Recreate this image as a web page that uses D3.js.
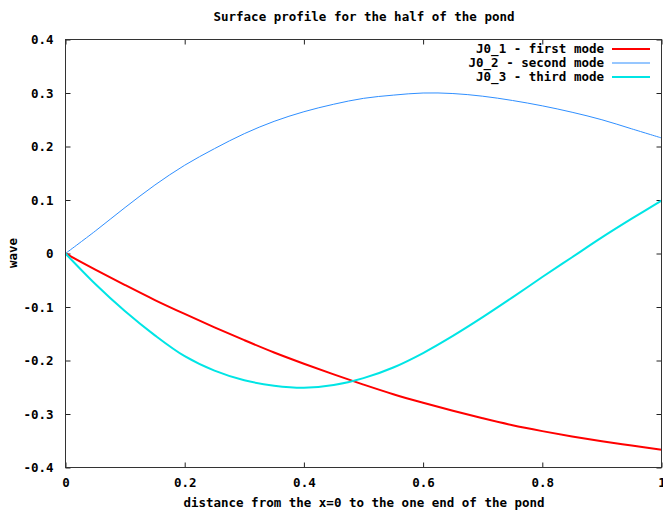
<!DOCTYPE html>
<html>
<head>
<meta charset="utf-8">
<script src="https://cdn.jsdelivr.net/npm/d3@7"></script>
<style>
  html, body { margin: 0; padding: 0; background: #fff; }
  svg { display: block; }
  text { font-family: "DejaVu Sans Mono", monospace; font-weight: bold; font-size: 12.5px; fill: #000; }
</style>
</head>
<body>
<svg id="chart" width="663" height="512"></svg>
<script>
// Sample positions along the half pond
const xs = [0, 0.05, 0.1, 0.15, 0.2, 0.25, 0.3, 0.35, 0.4, 0.45, 0.5,
            0.55, 0.6, 0.65, 0.7, 0.75, 0.8, 0.85, 0.9, 0.95, 1.0];

// Surface displacement of each Bessel mode
const mode1 = [0, -0.030, -0.059, -0.087, -0.113, -0.138, -0.162, -0.185, -0.206, -0.226, -0.245,
               -0.263, -0.279, -0.294, -0.308, -0.321, -0.332, -0.342, -0.351, -0.359, -0.367];
const mode2 = [0, 0.042, 0.086, 0.128, 0.165, 0.196, 0.224, 0.247, 0.265, 0.279, 0.290,
               0.296, 0.300, 0.299, 0.294, 0.286, 0.276, 0.264, 0.250, 0.233, 0.216];
const mode3 = [0, -0.057, -0.108, -0.153, -0.192, -0.219, -0.237, -0.247, -0.251, -0.246, -0.233,
               -0.213, -0.186, -0.154, -0.119, -0.082, -0.044, -0.007, 0.030, 0.065, 0.099];

const seriesNames = ["J0_1 - first mode", "J0_2 - second mode", "J0_3 - third mode"];
const seriesColors = ["#ff0000", "#2f8fff", "#00e5e5"];
const seriesWidths = [2, 1, 2];

const xTicks = [0, 0.2, 0.4, 0.6, 0.8, 1];
const yTicks = [-0.4, -0.3, -0.2, -0.1, 0, 0.1, 0.2, 0.3, 0.4];

const titleText = "Surface profile for the half of the pond";
const xLabel = "distance from the x=0 to the one end of the pond";
const yLabel = "wave";

const svg = d3.select("#chart");
const m = { left: 65.5, right: 661.5, top: 39.5, bottom: 467.5 };

const x = d3.scaleLinear().domain([0, 1]).range([m.left, m.right]);
const y = d3.scaleLinear().domain([-0.4, 0.4]).range([m.bottom, m.top]);

const fmt = d => String(d);

// Title
svg.append("text").attr("x", 364).attr("y", 21).attr("text-anchor", "middle").text(titleText);

// Axes with inward ticks, mirrored on top/right
const tickLen = 5;
const bottomAxis = svg.append("g").attr("transform", `translate(0,${m.bottom})`)
  .call(d3.axisBottom(x).tickValues(xTicks).tickSizeInner(-tickLen).tickSizeOuter(0).tickPadding(tickLen + 10).tickFormat(fmt));
const topAxis = svg.append("g").attr("transform", `translate(0,${m.top})`)
  .call(d3.axisTop(x).tickValues(xTicks).tickSizeInner(-tickLen).tickSizeOuter(0).tickFormat(""));
const leftAxis = svg.append("g").attr("transform", `translate(${m.left},0)`)
  .call(d3.axisLeft(y).tickValues(yTicks).tickSizeInner(-tickLen).tickSizeOuter(0).tickPadding(tickLen + 7).tickFormat(fmt));
const rightAxis = svg.append("g").attr("transform", `translate(${m.right},0)`)
  .call(d3.axisRight(y).tickValues(yTicks).tickSizeInner(-tickLen).tickSizeOuter(0).tickFormat(""));

[bottomAxis, topAxis, leftAxis, rightAxis].forEach(g => {
  g.select(".domain").remove();
  g.selectAll(".tick line").attr("stroke", "#222");
  g.selectAll("text").attr("font-family", null).attr("font-size", null).attr("fill", null);
});
bottomAxis.selectAll(".tick text").attr("dy", "0.35em");

// Legend
const legend = svg.append("g");
seriesNames.forEach((name, i) => {
  const ly = 49 + i * 14;
  legend.append("text").attr("x", 604).attr("y", ly).attr("dy", "0.35em")
    .attr("text-anchor", "end").text(name);
  legend.append("line").attr("x1", 612).attr("x2", 650).attr("y1", ly).attr("y2", ly)
    .attr("stroke", seriesColors[i]).attr("stroke-width", seriesWidths[i]);
});

// Curves
const line = d3.line().x((d, i) => x(xs[i])).y(d => y(d)).curve(d3.curveCatmullRom.alpha(0.5));
[mode1, mode2, mode3].forEach((vals, i) => {
  svg.append("path").datum(vals).attr("d", line)
    .attr("fill", "none").attr("stroke", seriesColors[i]).attr("stroke-width", seriesWidths[i]);
});

// Plot border
svg.append("rect").attr("x", m.left).attr("y", m.top)
  .attr("width", m.right - m.left).attr("height", m.bottom - m.top)
  .attr("fill", "none").attr("stroke", "#333").attr("stroke-width", 1);

// Axis titles
svg.append("text").attr("x", 364).attr("y", 507).attr("text-anchor", "middle").text(xLabel);
svg.append("text").attr("transform", "translate(17,253) rotate(-90)")
  .attr("text-anchor", "middle").text(yLabel);
</script>
</body>
</html>
